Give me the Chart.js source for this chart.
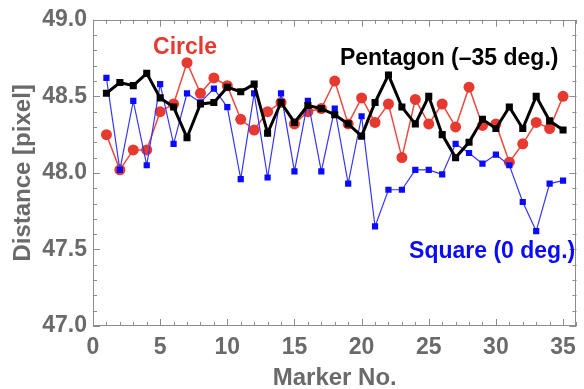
<!DOCTYPE html>
<html><head><meta charset="utf-8">
<script src="https://cdn.jsdelivr.net/npm/chart.js@4.4.1/dist/chart.umd.min.js"></script>
<style>html,body{margin:0;padding:0;background:#fff}#wrap{width:584px;height:389px;position:relative}</style>
</head><body><div id="wrap"><canvas id="c"></canvas></div>
<script>
// ---- data ----
const markerNo = [1,2,3,4,5,6,7,8,9,10,11,12,13,14,15,16,17,18,19,20,21,22,23,24,25,26,27,28,29,30,31,32,33,34,35];
const circle = [48.25,48.02,48.15,48.15,48.40,48.45,48.72,48.52,48.62,48.57,48.35,48.28,48.40,48.46,48.32,48.40,48.42,48.60,48.32,48.49,48.33,48.45,48.10,48.48,48.32,48.45,48.30,48.56,48.31,48.32,48.07,48.19,48.33,48.29,48.50];
const square = [48.62,48.02,48.47,48.05,48.58,48.19,48.52,48.46,48.55,48.43,47.96,48.52,47.97,48.52,48.01,48.47,48.01,48.42,47.93,48.37,47.65,47.89,47.89,48.02,48.02,47.99,48.19,48.13,48.06,48.12,48.05,47.81,47.62,47.93,47.95];
const pentagon = [48.52,48.59,48.57,48.65,48.49,48.43,48.23,48.45,48.46,48.56,48.53,48.58,48.26,48.46,48.33,48.44,48.42,48.38,48.32,48.24,48.46,48.64,48.43,48.32,48.50,48.25,48.10,48.20,48.35,48.29,48.43,48.29,48.50,48.34,48.28];
const xTicks = [0,5,10,15,20,25,30,35];
const yTicks = [47.0,47.5,48.0,48.5,49.0];
const seriesNames = ['Circle','Pentagon (\u201335 deg.)','Square (0 deg.)'];

// ---- styling / layout ----
const RED = '#e63a30', BLUE = '#0a0aff', BLACK = '#000000', GRAY = '#6a6a6a', AXIS = '#8c8c8c';
const FONT = '"Liberation Sans", Arial, sans-serif';
const notes = [
  {text: seriesNames[0], x: 6.85, y: 48.778, color: RED},
  {text: seriesNames[1], x: 26.52, y: 48.706, color: BLACK},
  {text: seriesNames[2], x: 29.72, y: 47.441, color: BLUE}
];

const toXY = arr => arr.map((v,i) => ({x: markerNo[i], y: v}));

const framePlugin = {
  id: 'frame',
  beforeDatasetsDraw(chart) {
    const {ctx, chartArea: a, scales: {x, y}} = chart;
    ctx.save();
    ctx.strokeStyle = AXIS; ctx.lineWidth = 1;
    ctx.strokeRect(Math.round(a.left)+0.5, Math.round(a.top)+0.5, Math.round(a.width)-1, Math.round(a.height)-1);
    ctx.beginPath();
    for (let v = x.min; v <= x.max; v += 1) {
      const px = Math.round(x.getPixelForValue(v)) + 0.5;
      const len = (v % 5 === 0) ? 7 : 4;
      ctx.moveTo(px, a.bottom); ctx.lineTo(px, a.bottom - len);
      ctx.moveTo(px, a.top); ctx.lineTo(px, a.top + len);
    }
    for (let k = 0; k <= Math.round((y.max - y.min) / 0.1); k++) {
      const py = Math.round(y.getPixelForValue(y.min + k * 0.1)) + 0.5;
      const len = (k % 5 === 0) ? 7 : 4;
      ctx.moveTo(a.left, py); ctx.lineTo(a.left + len, py);
      ctx.moveTo(a.right, py); ctx.lineTo(a.right - len, py);
    }
    ctx.stroke();
    ctx.restore();
  },
  afterDatasetsDraw(chart) {
    const {ctx, scales: {x, y}} = chart;
    ctx.save();
    ctx.font = 'bold 23px ' + FONT;
    ctx.textAlign = 'center'; ctx.textBaseline = 'alphabetic';
    notes.forEach(n => {
      ctx.fillStyle = n.color;
      ctx.fillText(n.text, x.getPixelForValue(n.x), y.getPixelForValue(n.y));
    });
    ctx.restore();
  }
};

new Chart(document.getElementById('c'), {
  type: 'line',
  data: {
    datasets: [
      {label: seriesNames[1], data: toXY(pentagon), borderColor: BLACK, backgroundColor: BLACK, borderWidth: 3,
       pointStyle: 'rect', pointRadius: 5, pointBorderWidth: 0, tension: 0},
      {label: seriesNames[2], data: toXY(square), borderColor: '#3535ff', backgroundColor: BLUE, borderWidth: 1.2,
       pointStyle: 'rect', pointRadius: 4.4, pointBorderWidth: 0, tension: 0},
      {label: seriesNames[0], data: toXY(circle), borderColor: '#ea4a40', backgroundColor: RED, borderWidth: 1.5,
       pointStyle: 'circle', pointRadius: 5.5, pointBorderWidth: 0, tension: 0}
    ]
  },
  options: {
    responsive: true, maintainAspectRatio: false, animation: false, devicePixelRatio: 1,
    layout: {padding: {top: 19, right: 1, left: 0, bottom: 0}},
    plugins: {legend: {display: false}, tooltip: {enabled: false}},
    scales: {
      x: {
        type: 'linear', min: 0, max: 36,
        afterBuildTicks: s => { s.ticks = xTicks.map(v => ({value: v})); },
        afterFit: s => { s.height = 63; },
        grid: {display: false, drawTicks: false}, border: {display: false},
        ticks: {padding: 8, color: GRAY, font: {family: FONT, size: 23, weight: 'bold'}, maxRotation: 0, autoSkip: false},
        title: {display: true, text: 'Marker No.', color: GRAY, font: {family: FONT, size: 24, weight: 'bold', lineHeight: 1}, padding: {top: 0, bottom: -1}}
      },
      y: {
        type: 'linear', min: 47, max: 49,
        afterBuildTicks: s => { s.ticks = yTicks.map(v => ({value: v})); },
        afterFit: s => { s.width = 93; },
        grid: {display: false, drawTicks: false}, border: {display: false},
        ticks: {padding: 6, color: GRAY, font: {family: FONT, size: 23, weight: 'bold'}, callback: v => v.toFixed(1), autoSkip: false},
        title: {display: true, text: 'Distance [pixel]', color: GRAY, font: {family: FONT, size: 24, weight: 'bold', lineHeight: 1}, padding: {top: 11, bottom: 0}}
      }
    }
  },
  plugins: [framePlugin]
});
</script>
</body></html>
